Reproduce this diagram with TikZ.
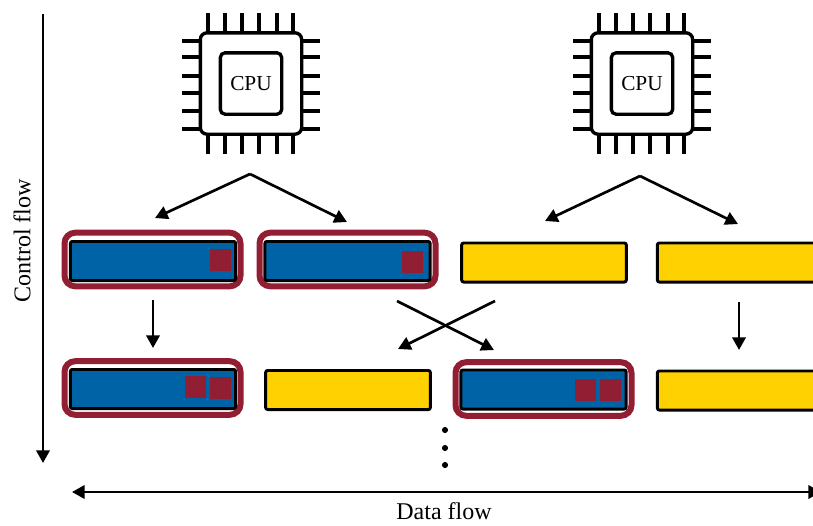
\documentclass[tikz,border=0pt]{standalone}
\usepackage{fontspec}
\setmainfont{Liberation Serif}
\usetikzlibrary{arrows.meta}
\definecolor{barblue}{RGB}{0,99,165}
\definecolor{baryellow}{RGB}{255,209,0}
\definecolor{markred}{RGB}{145,30,50}
\tikzset{
  chipbox/.style={draw,fill=white,line width=2.5pt,rounded corners=5pt,inner sep=0pt,outer sep=0pt},
  chippin/.style={line width=2.3pt},
  bluebar/.style={draw,fill=barblue,line width=2.2pt,rounded corners=1.5pt,inner sep=0pt,outer sep=0pt,minimum width=124pt,minimum height=29.3pt},
  yellowbar/.style={draw,fill=baryellow,line width=2.2pt,rounded corners=1.5pt,inner sep=0pt,outer sep=0pt,minimum width=123.5pt,minimum height=29.3pt},
  halo/.style={draw=markred,line width=4.5pt,rounded corners=8pt,inner sep=0pt,outer sep=0pt,minimum width=132pt,minimum height=40.2pt},
  marksq/.style={fill=markred,inner sep=0pt,outer sep=0pt,minimum size=16pt},
  flowarrow/.style={line width=2pt,-{Triangle[length=9.5pt,width=10pt]}},
  axisarrow/.style={line width=1.9pt,-{Triangle[length=9.5pt,width=10pt]}},
  dotmark/.style={circle,fill=black,inner sep=0pt,outer sep=0pt,minimum size=4.6pt}
}

\begin{document}
\begin{tikzpicture}[x=0.75pt,y=0.75pt,yscale=-1,xscale=1]
\useasboundingbox (0,0) rectangle (813,525);
\clip (0,0) rectangle (813,525);

%Shape: Pins, left CPU
\draw [chippin] (208,13) -- (208,154) (225,13) -- (225,154) (242,13) -- (242,154) (259,13) -- (259,154) (277,13) -- (277,154) (293,13) -- (293,154) ;
\draw [chippin] (182,41) -- (320,41) (182,57) -- (320,57) (182,76) -- (320,76) (182,93) -- (320,93) (182,111) -- (320,111) (182,129) -- (320,129) ;
%Shape: Pins, right CPU
\draw [chippin] (599,13) -- (599,154) (616,13) -- (616,154) (633,13) -- (633,154) (650,13) -- (650,154) (668,13) -- (668,154) (684,13) -- (684,154) ;
\draw [chippin] (573,41) -- (711,41) (573,57) -- (711,57) (573,76) -- (711,76) (573,93) -- (711,93) (573,111) -- (711,111) (573,129) -- (711,129) ;

%Shape: CPU packages
\node (chipA) at (251,83.5) [chipbox,minimum size=76pt] {};
\node (chipB) at (642,83.5) [chipbox,minimum size=76pt] {};
\node (coreA) at (chipA.center) [chipbox,rounded corners=3.5pt,minimum size=46pt,font=\fontsize{16}{16}\selectfont] {CPU};
\node (coreB) at (chipB.center) [chipbox,rounded corners=3.5pt,minimum size=46pt,font=\fontsize{16}{16}\selectfont] {CPU};

%Shape: Highlight frames
\node (haloA) at (152.5,259.5) [halo] {};
\node (haloB) at (347.5,259.5) [halo] {};
\node (haloC) at (152.5,388) [halo] {};
\node (haloD) at (543.5,389) [halo] {};

%Shape: Top row
\node (barA) at (153,261) [bluebar] {};
\node (barB) at (347.5,261) [bluebar] {};
\node (barC) at (544,262.5) [yellowbar] {};
\node (barD) at (740,262.5) [yellowbar,minimum width=124pt] {};
%Shape: Bottom row
\node (barE) at (153,389) [bluebar] {};
\node (barF) at (348,390) [yellowbar] {};
\node (barG) at (543.5,389.5) [bluebar] {};
\node (barH) at (740,390.5) [yellowbar,minimum width=124pt] {};

%Shape: Red squares
\node (sqA) at (220.5,260) [marksq] {};
\node (sqB) at (412.5,262) [marksq] {};
\node (sqC) at (195.5,387) [marksq] {};
\node (sqD) at (220.5,388) [marksq] {};
\node (sqE) at (585.5,390) [marksq] {};
\node (sqF) at (610.5,390) [marksq] {};

%Shape: Arrow ends
\coordinate (forkA) at (250,174);
\coordinate (forkAl) at (155,218);
\coordinate (forkAr) at (347,222);
\coordinate (forkB) at (640,176);
\coordinate (forkBl) at (545,221);
\coordinate (forkBr) at (738,224);
\coordinate (downAs) at (153,300);
\coordinate (downAe) at (153,348);
\coordinate (downBs) at (739,302);
\coordinate (downBe) at (739,350);
\coordinate (crossAs) at (397,301);
\coordinate (crossAe) at (494,350);
\coordinate (crossBs) at (495,301);
\coordinate (crossBe) at (398,349);
\coordinate (ctrlS) at (43,14);
\coordinate (ctrlE) at (43,463);
\coordinate (dataS) at (72,492);
\coordinate (dataE) at (821,492);

\draw [flowarrow] (forkA) -- (forkAl);
\draw [flowarrow] (forkA) -- (forkAr);
\draw [flowarrow] (forkB) -- (forkBl);
\draw [flowarrow] (forkB) -- (forkBr);
\draw [flowarrow] (downAs) -- (downAe);
\draw [flowarrow] (downBs) -- (downBe);
\draw [flowarrow] (crossAs) -- (crossAe);
\draw [flowarrow] (crossBs) -- (crossBe);
\draw [axisarrow] (ctrlS) -- (ctrlE);
\draw [axisarrow,{Triangle[length=9.5pt,width=10pt]}-{Triangle[length=9.5pt,width=10pt]}] (dataS) -- (dataE);

%Shape: Dots
\node (dotA) at (445,430) [dotmark] {};
\node (dotB) at (445,448) [dotmark] {};
\node (dotC) at (445,465) [dotmark] {};

% Text Node
\node (ctrlLabel) at (22,241) [rotate=90,inner sep=0pt,font=\fontsize{18}{18}\selectfont] {Control flow};
% Text Node
\node (dataLabel) at (444,511) [inner sep=0pt,font=\fontsize{18}{18}\selectfont] {Data flow};
\end{tikzpicture}
\end{document}
